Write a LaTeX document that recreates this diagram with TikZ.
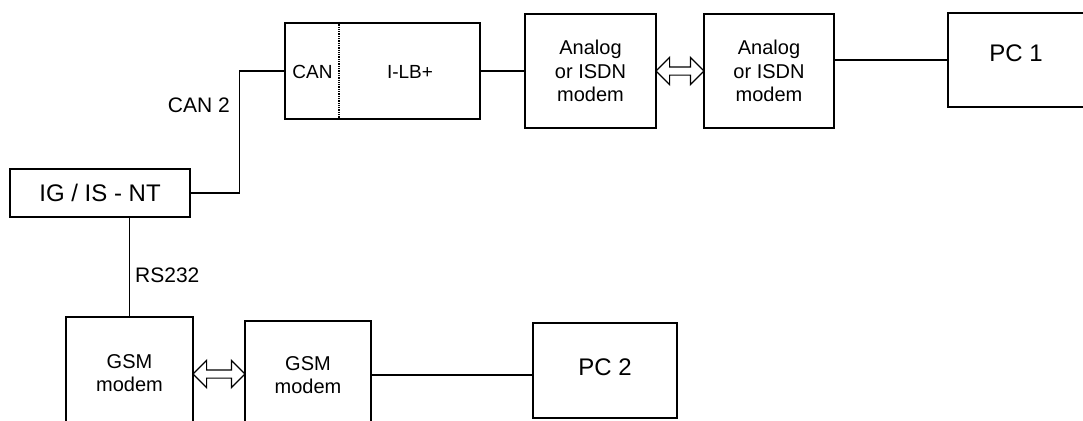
\documentclass[tikz,border=0pt]{standalone}
\usepackage{fontspec}
\setmainfont{Liberation Sans}
\usetikzlibrary{shapes.arrows,calc}

\newcommand\mdmfont{\fontsize{20}{23.5}\selectfont}
\newcommand\pcfont{\fontsize{24}{28}\selectfont}
\newcommand\lblfont{\fontsize{21}{24}\selectfont}

\tikzset{
  box/.style={draw, line width=1.2pt, inner sep=0pt, align=center, font=\mdmfont},
  wire/.style={line width=1.2pt},
  dblarrow/.style={double arrow, draw, line width=1.2pt, inner sep=3.5pt,
    double arrow head extend=9.5pt, minimum width=26pt},
  lbl/.style={inner sep=0pt, font=\lblfont}
}

\begin{document}
\begin{tikzpicture}[x=1pt,y=-1pt]
    \useasboundingbox (0,0) rectangle (1083,420);

    %upper row
    \node[box, line width=2pt, minimum width=195pt, minimum height=96pt] (ilb) at (382.5,71) {};
    \node[font=\fontsize{19}{22}\selectfont] (can) at (312.5,72) {CAN};
    \node[font=\fontsize{19}{22}\selectfont] (ilbtxt) at (410,72) {I-LB+};
    \draw[densely dotted, line width=1.3pt] ($(ilb.north west)+(55,0)$) -- ($(ilb.south west)+(55,0)$);

    \node[box, minimum width=131pt, minimum height=114pt] (an1) at (590.5,71) {Analog\\or ISDN\\modem};
    \node[box, minimum width=130pt, minimum height=114pt] (an2) at (769,71) {Analog\\or ISDN\\modem};
    \node[box, font=\pcfont, text depth=14pt, minimum width=136pt, minimum height=94pt] (pc1) at (1016,60) {PC 1};

    %station
    \node[box, font=\pcfont, minimum width=180pt, minimum height=48pt] (ig) at (100,193) {IG / IS - NT};

    %lower row
    \node[box, minimum width=127pt, minimum height=112pt] (gsm1) at (129.5,373) {GSM\\modem};
    \node[box, minimum width=126pt, minimum height=108pt] (gsm2) at (308,375) {GSM\\modem};
    \node[box, font=\pcfont, text depth=7pt, minimum width=144pt, minimum height=95pt] (pc2) at (605,370.5) {PC 2};

    %wires
    \draw[wire] (ig.east) -- ++(49,0) coordinate (bend) |- (ilb.west);
    \draw[wire] (ilb.east) -- (ilb.east -| an1.west);
    \draw[wire] (an2.east |- pc1.west) -- (pc1.west);
    \draw[wire] (gsm1.north |- ig.south) -- (gsm1.north);
    \draw[wire] (gsm2.east) -- (gsm2.east -| pc2.west);

    %modem links
    \node[dblarrow, minimum height=48pt] (lk1) at ($(an1.east)!0.5!(an2.west)$) {};
    \node[dblarrow, minimum height=52pt] (lk2) at ($(gsm1.east)!0.5!(gsm2.west)$) {};

    %labels
    \node[lbl, anchor=east] (can2) at (230,105) {CAN 2};
    \node[lbl, anchor=west] (rs) at (135,275) {RS232};
\end{tikzpicture}
\end{document}
